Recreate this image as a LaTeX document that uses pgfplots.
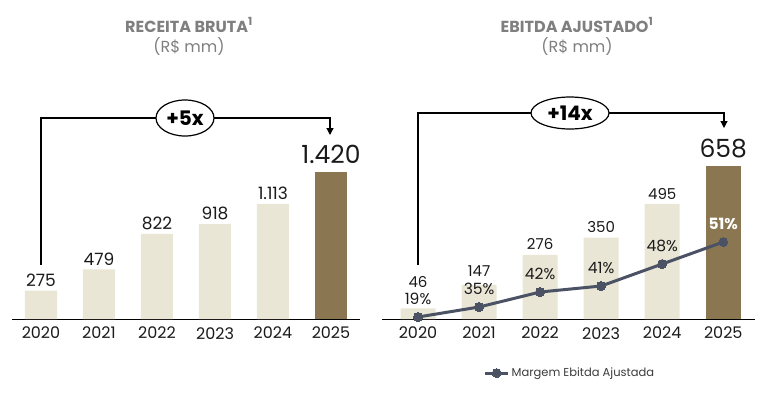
\documentclass[border=0pt]{standalone}
\usepackage{pgfplots}
\pgfplotsset{compat=1.18}
\usepackage{pgfplotstable}
\usepackage{fontspec}
\setmainfont{Poppins}
\usetikzlibrary{arrows.meta,shapes.geometric}
\definecolor{beige}{HTML}{E9E6D6}
\definecolor{gold}{HTML}{8A7650}
\definecolor{slate}{HTML}{4A5264}
\definecolor{titlegray}{HTML}{7F7F7F}
\definecolor{txt}{HTML}{1A1A1A}

\pgfplotstableread{
x y off
0 275 4
1 479 4
2 822 4
3 918 4
4 1113 4
}\receita
\pgfplotstableread{
x y off
5 1420 8
}\receitaLast
\pgfplotstableread{
x y off
0 46 21
1 147 8
2 276 5
3 350 5
4 495 4
}\ebitda
\pgfplotstableread{
x y off
5 658 8
}\ebitdaLast

\pgfplotsset{
  barbase/.style={
    scale only axis, height=219pt,
    ymin=0, axis x line*=bottom, axis y line=none,
    x axis line style={-, black, line width=0.8pt},
    xtick={0,1,2,3,4,5}, xticklabels={2020,2021,2022,2023,2024,2025},
    major tick length=0pt,
    xticklabel style={font=\fontsize{16}{18}\selectfont, text=txt, inner sep=0pt, yshift=-8pt},
    ybar, bar shift=0pt, clip=false,
    /pgf/number format/.cd, 1000 sep={.}, assume math mode=true, /pgfplots/.cd,
    nodes near coords, point meta=y,
    visualization depends on={\thisrow{off} \as \off},
    every node near coord/.append style={anchor=south, inner sep=0pt, yshift=\off pt, text=txt},
  }
}

\begin{document}
\begin{tikzpicture}
\useasboundingbox (0pt,0pt) rectangle (767pt,-392pt);

% titles
\node[font=\fontsize{16}{18}\selectfont\bfseries, text=titlegray] at (189pt,-25pt) {RECEITA BRUTA\textsuperscript{1}};
\node[font=\fontsize{16}{18}\selectfont, text=titlegray] at (189pt,-47pt) {(R\$ mm)};
\node[font=\fontsize{16}{18}\selectfont\bfseries, text=titlegray] at (577pt,-25pt) {EBITDA AJUSTADO\textsuperscript{1}};
\node[font=\fontsize{16}{18}\selectfont, text=titlegray] at (577pt,-47pt) {(R\$ mm)};

% left chart
\begin{axis}[barbase,
  at={(12pt,-319pt)}, anchor=south west,
  width=348pt, xmin=-0.5, xmax=5.5, ymax=2116,
  bar width=32pt,
  every node near coord/.append style={font=\fontsize{17}{19}\selectfont}]
\addplot[fill=beige, draw=none] table[x=x,y=y] {\receita};
\addplot[fill=gold, draw=none, every node near coord/.append style={font=\fontsize{25}{27}\selectfont}] table[x=x,y=y] {\receitaLast};
\end{axis}

% right chart
\begin{axis}[barbase,
  at={(382pt,-319pt)}, anchor=south west,
  width=373pt, xmin=-0.59, xmax=5.52, ymax=942,
  bar width=35pt,
  every node near coord/.append style={font=\fontsize{15}{17}\selectfont}]
\addplot[fill=beige, draw=none] table[x=x,y=y] {\ebitda};
\addplot[fill=gold, draw=none, every node near coord/.append style={font=\fontsize{25}{27}\selectfont}] table[x=x,y=y] {\ebitdaLast};
\end{axis}

% margin line (overlay)
\begin{axis}[
  at={(382pt,-319pt)}, anchor=south west,
  scale only axis, width=373pt, height=219pt,
  xmin=-0.59, xmax=5.52, ymin=0, ymax=219,
  hide axis, clip=false,
  legend style={at={(0.272,-0.247)}, anchor=west, draw=none, fill=none,
    font=\fontsize{11.5}{13}\selectfont, text=txt!85, inner sep=0pt},
  legend image code/.code={\draw[mark repeat=2,mark phase=2,#1] plot coordinates {(0pt,0pt) (11.5pt,0pt) (23pt,0pt)};},
  ]
\addplot[slate, line width=3pt, mark=*, mark size=4.5pt, mark options={fill=slate, draw=slate, line width=0pt},
  point meta=explicit symbolic, nodes near coords,
  every node near coord/.append style={anchor=south, inner sep=0pt, yshift=12pt, font=\fontsize{15.5}{17}\selectfont, text=txt}]
  coordinates {(0,2) [19\%] (1,12) [35\%] (2,27) [42\%] (3,33) [41\%] (4,55) [48\%]};
\addlegendentry{Margem Ebitda Ajustada}
\addplot[slate, line width=3pt, forget plot]
  coordinates {(4,55) (5,77)};
\addplot[slate, only marks, mark=*, mark size=4.5pt, mark options={fill=slate, draw=slate, line width=0pt}, forget plot,
  point meta=explicit symbolic, nodes near coords,
  every node near coord/.append style={anchor=south, inner sep=0pt, yshift=12pt, font=\fontsize{15.5}{17}\selectfont\bfseries, text=white}]
  coordinates {(4,55) [] (5,77) [51\%]};
\end{axis}

% growth annotations
\draw[black, line width=1.2pt, -{Triangle[width=7pt,length=7pt]}] (41pt,-265pt) -- (41pt,-118pt) -- (330pt,-118pt) -- (330pt,-135pt);
\node[draw=black, line width=1.2pt, fill=white, ellipse, minimum width=58pt, minimum height=36pt, inner sep=0pt,
  font=\fontsize{20}{22}\selectfont\bfseries] at (185pt,-118pt) {+5x};
\draw[black, line width=1.2pt, -{Triangle[width=7pt,length=7pt]}] (418pt,-265pt) -- (418pt,-113pt) -- (724pt,-113pt) -- (724pt,-128pt);
\node[draw=black, line width=1.2pt, fill=white, ellipse, minimum width=78pt, minimum height=32pt, inner sep=0pt,
  font=\fontsize{20}{22}\selectfont\bfseries] at (570pt,-113pt) {+14x};
\end{tikzpicture}
\end{document}
